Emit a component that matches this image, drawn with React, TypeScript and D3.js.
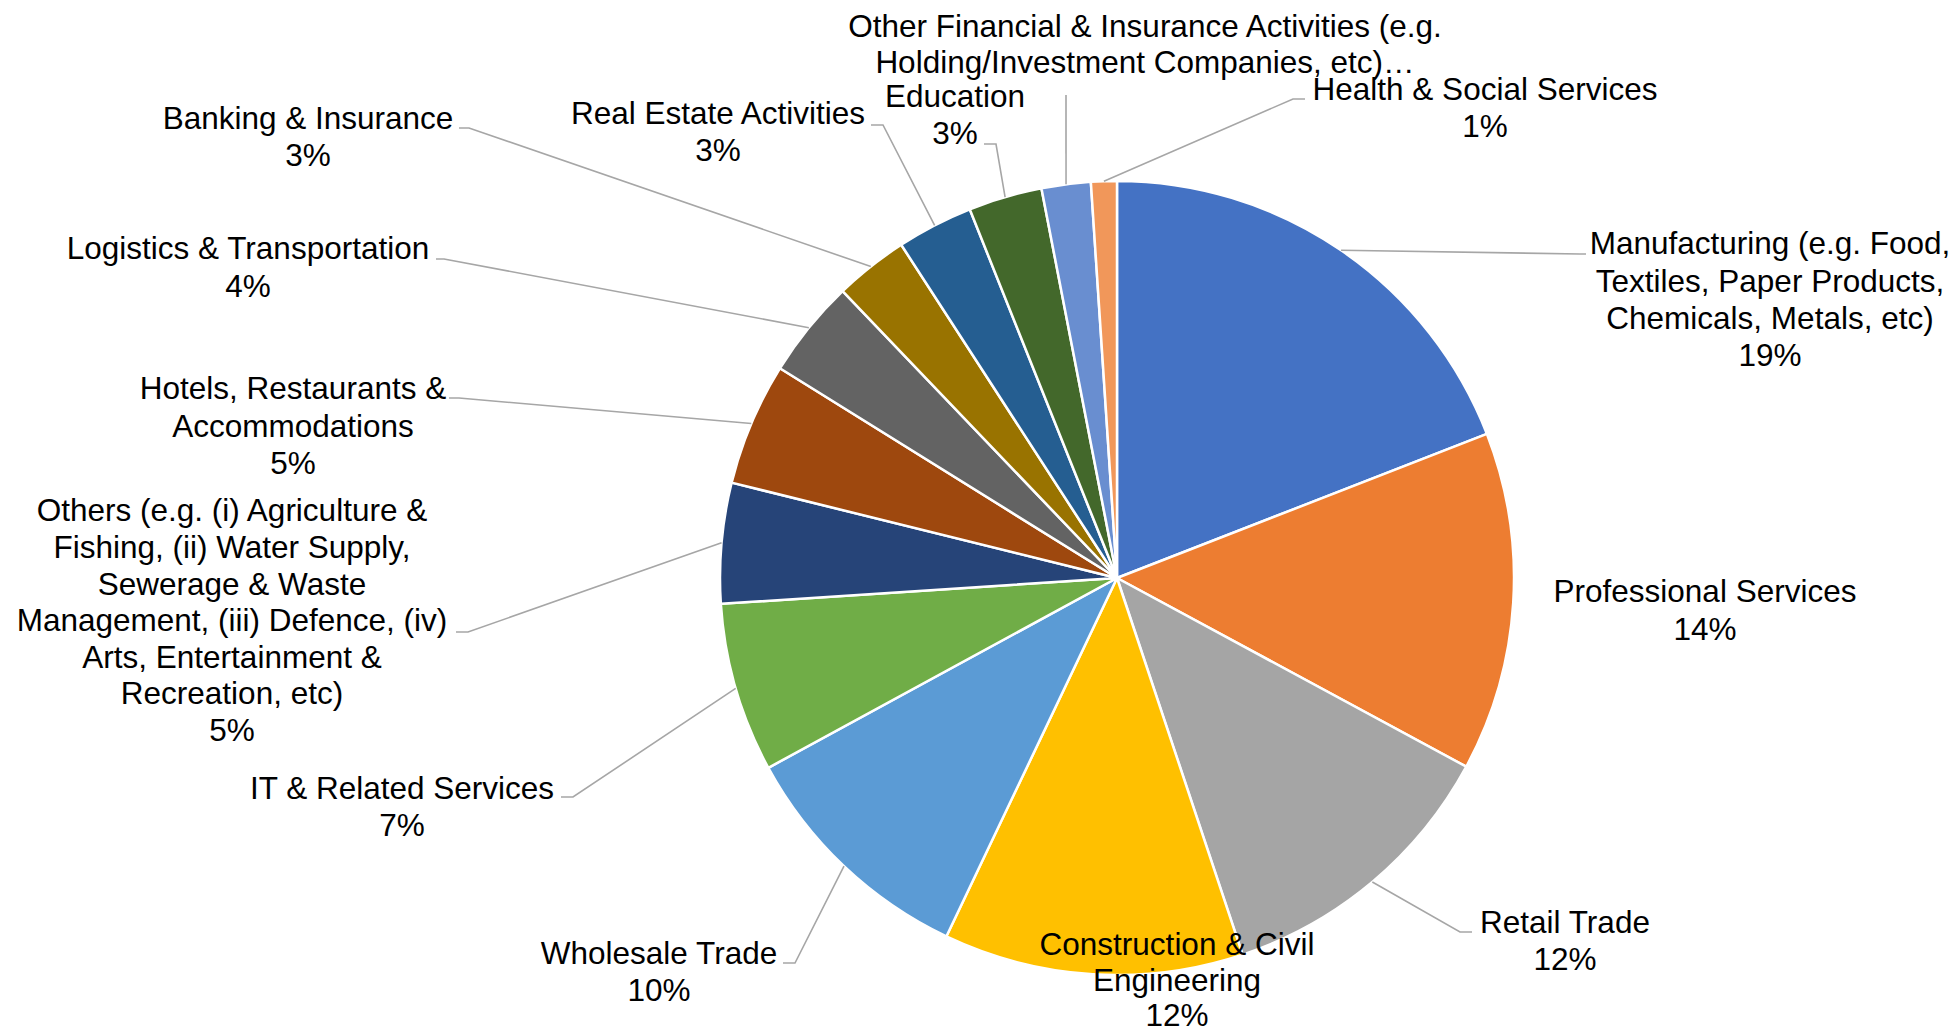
import React from "react";
import * as d3 from "d3";

// ---- data ----
const categories = [
  "Manufacturing (e.g. Food, Textiles, Paper Products, Chemicals, Metals, etc)",
  "Professional Services",
  "Retail Trade",
  "Construction & Civil Engineering",
  "Wholesale Trade",
  "IT & Related Services",
  "Others (e.g. (i) Agriculture & Fishing, (ii) Water Supply, Sewerage & Waste Management, (iii) Defence, (iv) Arts, Entertainment & Recreation, etc)",
  "Hotels, Restaurants & Accommodations",
  "Logistics & Transportation",
  "Banking & Insurance",
  "Real Estate Activities",
  "Education",
  "Other Financial & Insurance Activities (e.g. Holding/Investment Companies, etc)",
  "Health & Social Services",
];
const values = [19.1, 13.8, 12.0, 12.2, 10.0, 6.9, 4.9, 5.0, 4.0, 3.0, 3.1, 3.0, 2.0, 1.05];
const colors = [
  "#4472C4", "#ED7D31", "#A5A5A5", "#FFC000", "#5B9BD5", "#70AD47", "#264478",
  "#9E480E", "#636363", "#997300", "#255E91", "#43682B", "#698ED0", "#F1975A",
];
// wrapped label text as shown in the chart
const labelLines = [
  ["Manufacturing (e.g. Food,", "Textiles, Paper Products,", "Chemicals, Metals, etc)"],
  ["Professional Services"],
  ["Retail Trade"],
  ["Construction & Civil", "Engineering"],
  ["Wholesale Trade"],
  ["IT & Related Services"],
  ["Others (e.g. (i) Agriculture &", "Fishing, (ii) Water Supply,", "Sewerage & Waste", "Management, (iii) Defence, (iv)", "Arts, Entertainment &", "Recreation, etc)"],
  ["Hotels, Restaurants &", "Accommodations"],
  ["Logistics & Transportation"],
  ["Banking & Insurance"],
  ["Real Estate Activities"],
  ["Education"],
  ["Other Financial & Insurance Activities (e.g.", "Holding/Investment Companies, etc)…"],
  ["Health & Social Services"],
];
const showPercent = [true, true, true, true, true, true, true, true, true, true, true, true, false, true];

// ---- layout (label placement) ----
const labelLayout: { x: number; y: number; gap: number; elbow: [number, number] | null; end: [number, number] | null }[] = [
  { x: 1770, y: 243, gap: 37.3, elbow: [1580, 254], end: [1586, 254] },
  { x: 1705, y: 591, gap: 37.3, elbow: null, end: null },
  { x: 1565, y: 922, gap: 37, elbow: [1460, 932], end: [1472, 932] },
  { x: 1177, y: 944, gap: 35.5, elbow: null, end: null },
  { x: 659, y: 953, gap: 37, elbow: [795, 963], end: [783, 963] },
  { x: 402, y: 788, gap: 37, elbow: [573, 797], end: [561, 797] },
  { x: 232, y: 510, gap: 36.6, elbow: [468, 632], end: [456, 632] },
  { x: 293, y: 388, gap: 37.3, elbow: [459, 398], end: [449, 398] },
  { x: 248, y: 248, gap: 37.3, elbow: [444, 259], end: [436, 259] },
  { x: 308, y: 118, gap: 36.5, elbow: [469, 128], end: [459, 128] },
  { x: 718, y: 113, gap: 37, elbow: [883, 125], end: [871, 125] },
  { x: 955, y: 96, gap: 36.5, elbow: [996, 144], end: [984, 144] },
  { x: 1145, y: 26, gap: 35.5, elbow: [1066, 95], end: [1066, 95] },
  { x: 1485, y: 89, gap: 36.7, elbow: [1293, 99], end: [1305, 99] },
];

const W = 1956;
const H = 1033;
const CX = 1117;
const CY = 578;
const R = 397;
const FONT = 31.5;

export default function App() {
  const total = d3.sum(values);
  const pie = d3
    .pie<number>()
    .sort(null)
    .value((d) => d)
    .startAngle(0)
    .endAngle(2 * Math.PI);
  const arcs = pie(values);
  const arc = d3.arc<d3.PieArcDatum<number>>().innerRadius(0).outerRadius(R);

  return (
    <svg
      width={W}
      height={H}
      style={{ position: "absolute", left: 0, top: 0, background: "#fff" }}
      fontFamily="'Liberation Sans', Arial, sans-serif"
    >
      <rect width={W} height={H} fill="#fff" />
      <g transform={`translate(${CX},${CY})`}>
        {arcs.map((a, i) => (
          <path key={i} d={arc(a) || ""} fill={colors[i]} stroke="#fff" strokeWidth={2.5} strokeLinejoin="round" />
        ))}
      </g>
      {arcs.map((a, i) => {
        const L = labelLayout[i];
        if (!L.elbow || !L.end) return null;
        const mid = (a.startAngle + a.endAngle) / 2;
        const sx = CX + R * Math.sin(mid);
        const sy = CY - R * Math.cos(mid);
        const pts: [number, number][] = [[sx, sy], L.elbow, L.end];
        return (
          <path
            key={"l" + i}
            d={d3.line()(pts) || ""}
            fill="none"
            stroke="#A6A6A6"
            strokeWidth={1.6}
          />
        );
      })}
      {labelLines.map((lines, i) => {
        const L = labelLayout[i];
        const pct = Math.round((values[i] / total) * 100) + "%";
        const all = showPercent[i] ? [...lines, pct] : lines;
        return (
          <text key={"t" + i} textAnchor="middle" fontSize={FONT} fill="#000">
            {all.map((s, j) => (
              <tspan key={j} x={L.x} y={L.y + j * L.gap + 11.3}>
                {s}
              </tspan>
            ))}
          </text>
        );
      })}
    </svg>
  );
}
